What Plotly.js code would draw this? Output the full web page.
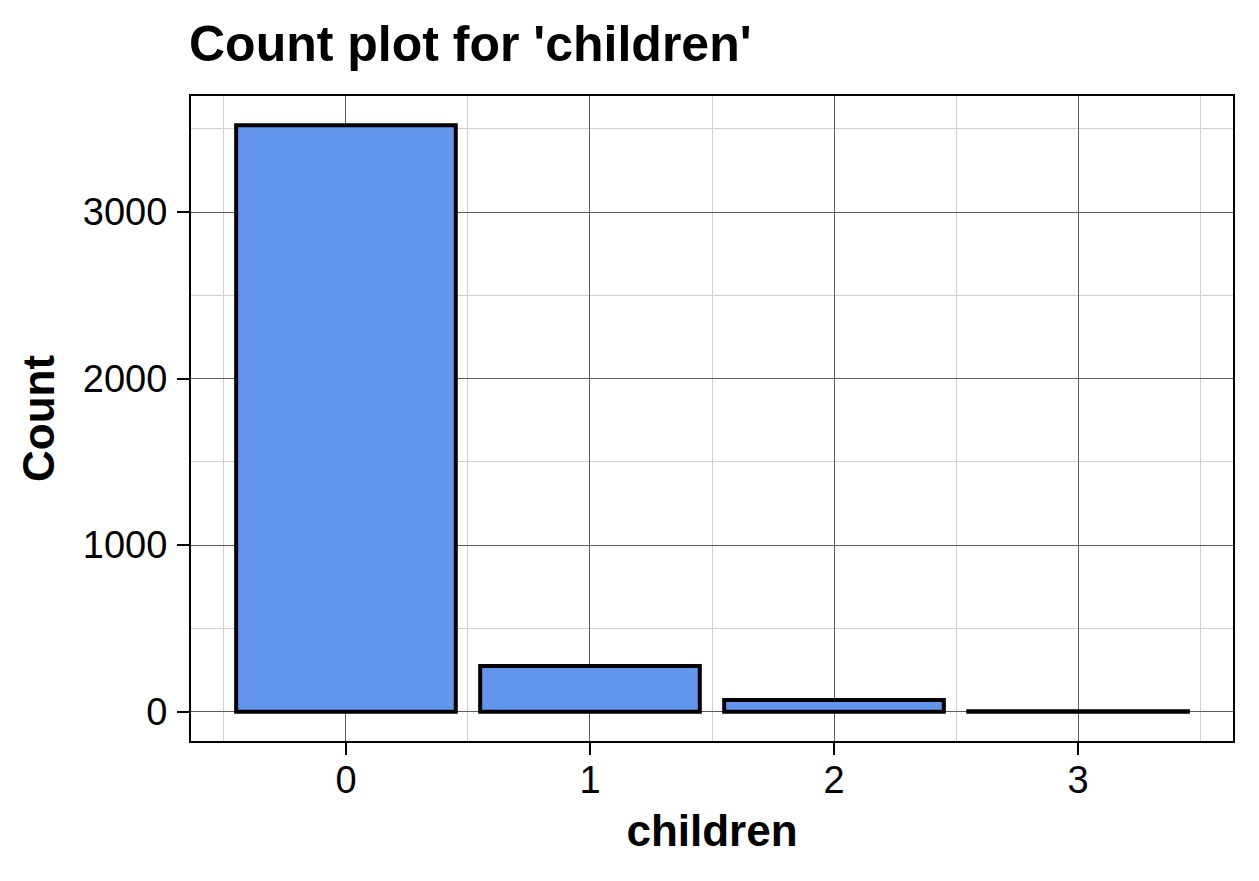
<!DOCTYPE html>
<html>
<head>
<meta charset="utf-8">
<script src="https://cdn.plot.ly/plotly-3.0.1.min.js"></script>
<style>html,body{margin:0;padding:0;background:#fff;}#chart{width:1259px;height:881px;}</style>
</head>
<body>
<div id="chart"></div>
<script>
const categories = [0, 1, 2, 3];
const tickLabels = ["0", "1", "2", "3"];
const counts = [3521, 275, 70, 3];
const yTickVals = [0, 1000, 2000, 3000];
const yTickText = ["0", "1000", "2000", "3000"];

const font = "Liberation Sans, Arial, Helvetica, sans-serif";

const trace = {
  type: "bar",
  x: categories,
  y: counts,
  width: 0.9,
  marker: { color: "#6495ED", line: { color: "#000000", width: 4 } },
  hoverinfo: "x+y"
};

const layout = {
  width: 1259,
  height: 881,
  margin: { l: 191, r: 26, t: 96, b: 140 },
  paper_bgcolor: "#ffffff",
  plot_bgcolor: "#ffffff",
  showlegend: false,
  font: { family: font, color: "#000000" },
  title: {
    text: "<b>Count plot for 'children'</b>",
    font: { family: font, size: 50, color: "#000000" },
    xref: "container", x: 189 / 1259, xanchor: "left",
    yref: "container", y: 1 - 43 / 881, yanchor: "middle"
  },
  xaxis: {
    range: [-0.635, 3.635],
    tickvals: categories,
    ticktext: tickLabels,
    tickfont: { family: font, size: 38, color: "#000000" },
    ticks: "outside", ticklen: 12, tickwidth: 2, tickcolor: "#000000",
    ticklabelstandoff: -8,
    showline: true, linecolor: "#000000", linewidth: 2, mirror: true,
    showgrid: true, gridcolor: "#5e5e5e", gridwidth: 1,
    zeroline: false,
    minor: { tick0: 0.5, dtick: 1, showgrid: true, gridcolor: "#d0d0d0", gridwidth: 1, ticks: "" },
    title: { text: "<b>children</b>", font: { family: font, size: 44, color: "#000000" }, standoff: 16 },
    automargin: false
  },
  yaxis: {
    range: [-176, 3697],
    tickvals: yTickVals,
    ticktext: yTickText,
    tickfont: { family: font, size: 38, color: "#000000" },
    ticks: "outside", ticklen: 12, tickwidth: 2, tickcolor: "#000000",
    ticklabelstandoff: 2,
    showline: true, linecolor: "#000000", linewidth: 2, mirror: true,
    showgrid: true, gridcolor: "#5e5e5e", gridwidth: 1,
    zeroline: false,
    minor: { tick0: 500, dtick: 1000, showgrid: true, gridcolor: "#d0d0d0", gridwidth: 1, ticks: "" },
    title: { text: "<b>Count</b>", font: { family: font, size: 44, color: "#000000" }, standoff: 14 },
    automargin: false
  }
};

Plotly.newPlot("chart", [trace], layout, { displayModeBar: false, staticPlot: true });
</script>
</body>
</html>
